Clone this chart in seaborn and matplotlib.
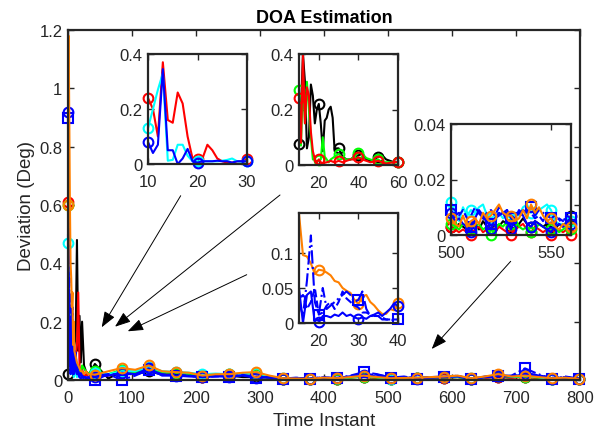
import numpy as np
import pandas as pd
import matplotlib
matplotlib.use("Agg")
import matplotlib.pyplot as plt
import seaborn as sns
from matplotlib.patches import FancyArrowPatch
from matplotlib.ticker import FuncFormatter

sns.set_style("white")
plt.rcParams["font.family"] = ["Liberation Sans", "DejaVu Sans"]

# ---------------- main data ----------------
x_early = [0, 1, 2, 3, 4, 5, 6, 7, 8, 9, 10, 12, 14, 16, 18, 20, 22, 25, 28, 32, 36]
x_tail = list(range(42, 799, 21))

black_early = [0.02, 0.15, 0.1, 0.2, 0.12, 0.08, 0.15, 0.1, 0.2, 0.08, 0.12, 0.15, 0.48, 0.1, 0.22, 0.06, 0.2, 0.05, 0.03, 0.02, 0.03]
red_early = [0.61, 0.35, 0.15, 0.2, 0.1, 0.18, 0.08, 0.12, 0.05, 0.1, 0.06, 0.08, 0.12, 0.3, 0.05, 0.02, 0.04, 0.01, 0.02, 0.01, 0.015]
green_early = [0.6, 0.1, 0.25, 0.08, 0.15, 0.05, 0.1, 0.04, 0.08, 0.03, 0.06, 0.02, 0.05, 0.03, 0.04, 0.02, 0.05, 0.04, 0.03, 0.02, 0.03]
cyan_early = [0.47, 0.2, 0.1, 0.05, 0.15, 0.02, 0.08, 0.03, 0.05, 0.01, 0.02, 0.03, 0.01, 0.02, 0.01, 0.01, 0.005, 0.01, 0.01, 0.005, 0.01]
blue_o_early = [0.92, 0.3, 0.05, 0.2, 0.02, 0.1, 0.3, 0.05, 0.15, 0.02, 0.1, 0.05, 0.03, 0.02, 0.01, 0.005, 0.01, 0.01, 0.005, 0.01, 0.01]
blue_s_early = [0.9, 0.2, 0.35, 0.05, 0.15, 0.1, 0.05, 0.25, 0.02, 0.12, 0.03, 0.1, 0.02, 0.05, 0.01, 0.03, 0.01, 0.005, 0.01, 0.005, 0.003]
blue_d_early = [0.5, 0.15, 0.08, 0.3, 0.04, 0.12, 0.06, 0.1, 0.03, 0.05, 0.02, 0.04, 0.02, 0.03, 0.01, 0.02, 0.015, 0.01, 0.01, 0.005, 0.01]
orange_early = [0.6, 1.18, 0.9, 0.6, 0.4, 0.35, 0.25, 0.3, 0.12, 0.2, 0.1, 0.08, 0.06, 0.05, 0.04, 0.03, 0.03, 0.02, 0.03, 0.02, 0.02]

black_tail = [0.055, 0.005, 0.03, 0.02, 0.03, 0.02, 0.02, 0.015, 0.01, 0.02, 0.015, 0.01, 0.01, 0.008, 0.004, 0.005, 0.004, 0.006, 0.005, 0.01, 0.01, 0.008, 0.004, 0.006, 0.006, 0.008, 0.008, 0.01, 0.005, 0.008, 0.01, 0.008, 0.012, 0.008, 0.005, 0.006, 0.003]
red_tail = [0.02, 0.015, 0.03, 0.025, 0.04, 0.02, 0.025, 0.02, 0.012, 0.015, 0.015, 0.02, 0.02, 0.01, 0.004, 0.004, 0.003, 0.005, 0.005, 0.008, 0.012, 0.006, 0.004, 0.005, 0.006, 0.008, 0.008, 0.01, 0.004, 0.008, 0.012, 0.008, 0.01, 0.006, 0.004, 0.005, 0.002]
green_tail = [0.03, 0.02, 0.035, 0.025, 0.04, 0.025, 0.025, 0.02, 0.015, 0.02, 0.02, 0.022, 0.022, 0.012, 0.005, 0.005, 0.004, 0.006, 0.005, 0.008, 0.012, 0.008, 0.004, 0.006, 0.007, 0.009, 0.009, 0.01, 0.002, 0.01, 0.015, 0.01, 0.012, 0.008, 0.004, 0.006, 0.003]
cyan_tail = [0.025, 0.02, 0.03, 0.03, 0.045, 0.03, 0.028, 0.025, 0.02, 0.022, 0.02, 0.02, 0.025, 0.012, 0.006, 0.005, 0.004, 0.007, 0.006, 0.01, 0.014, 0.01, 0.005, 0.006, 0.008, 0.01, 0.01, 0.012, 0.006, 0.01, 0.018, 0.012, 0.014, 0.01, 0.003, 0.007, 0.004]
blue_o_tail = [0.01, 0.015, 0.025, 0.02, 0.04, 0.015, 0.015, 0.012, 0.01, 0.012, 0.012, 0.015, 0.008, 0.01, 0.005, 0.006, 0.004, 0.008, 0.006, 0.012, 0.018, 0.012, 0.008, 0.01, 0.004, 0.008, 0.01, 0.012, 0.002, 0.01, 0.015, 0.012, 0.02, 0.015, 0.004, 0.008, 0.005]
blue_s_tail = [0.0, 0.02, 0.0, 0.015, 0.035, 0.02, 0.015, 0.015, 0.01, 0.015, 0.012, 0.018, 0.008, 0.01, 0.005, 0.008, 0.004, 0.01, 0.006, 0.015, 0.027, 0.02, 0.008, 0.012, 0.004, 0.01, 0.01, 0.015, 0.002, 0.012, 0.015, 0.015, 0.04, 0.02, 0.004, 0.012, 0.005]
blue_d_tail = [0.015, 0.02, 0.02, 0.02, 0.03, 0.018, 0.018, 0.015, 0.01, 0.012, 0.015, 0.015, 0.012, 0.008, 0.006, 0.007, 0.006, 0.009, 0.008, 0.012, 0.02, 0.018, 0.01, 0.01, 0.008, 0.01, 0.012, 0.014, 0.006, 0.01, 0.012, 0.014, 0.025, 0.016, 0.008, 0.01, 0.006]
orange_tail = [0.018, 0.03, 0.041, 0.035, 0.05, 0.03, 0.027, 0.025, 0.015, 0.02, 0.02, 0.025, 0.027, 0.015, 0.006, 0.005, 0.004, 0.008, 0.006, 0.01, 0.015, 0.01, 0.006, 0.007, 0.008, 0.01, 0.012, 0.015, 0.006, 0.012, 0.02, 0.012, 0.015, 0.01, 0.006, 0.008, 0.004]

# ---------------- inset 1 (x 10..30) ----------------
x_in1 = list(range(10, 31))
red_in1 = [0.24, 0.2, 0.1, 0.37, 0.16, 0.15, 0.26, 0.22, 0.1, 0.02, 0.02, 0.02, 0.07, 0.05, 0.02, 0.01, 0.005, 0.005, 0.01, 0.01, 0.02]
cyan_in1 = [0.13, 0.2, 0.27, 0.33, 0.012, 0.015, 0.07, 0.07, 0.03, 0.01, 0.01, 0.01, 0.01, 0.01, 0.01, 0.012, 0.015, 0.02, 0.01, 0.008, 0.01]
blue_in1 = [0.08, 0.04, 0.07, 0.345, 0.05, 0.05, 0.0, 0.02, 0.055, 0.01, 0.005, 0.01, 0.01, 0.01, 0.012, 0.01, 0.01, 0.005, 0.01, 0.01, 0.01]

# ---------------- inset 2 (x 10..60) ----------------
x_in2 = list(range(10, 31)) + list(range(32, 61, 2))
black_in2 = [0.075, 0.2, 0.4, 0.3, 0.06, 0.1, 0.29, 0.25, 0.15, 0.2, 0.22, 0.15, 0.05, 0.16, 0.17, 0.2, 0.21, 0.17, 0.05, 0.06, 0.06, 0.03, 0.02, 0.02, 0.03, 0.035, 0.04, 0.02, 0.015, 0.02, 0.03, 0.035, 0.02, 0.015, 0.01, 0.012]
green_in2 = [0.27, 0.07, 0.3, 0.15, 0.3, 0.2, 0.1, 0.02, 0.02, 0.01, 0.018, 0.02, 0.1, 0.03, 0.02, 0.01, 0.02, 0.025, 0.03, 0.035, 0.04, 0.025, 0.02, 0.02, 0.03, 0.045, 0.04, 0.025, 0.02, 0.015, 0.02, 0.01, 0.01, 0.01, 0.008, 0.01]
red_in2 = [0.24, 0.08, 0.4, 0.15, 0.28, 0.25, 0.12, 0.05, 0.02, 0.01, 0.02, 0.01, 0.005, 0.008, 0.01, 0.012, 0.015, 0.012, 0.01, 0.012, 0.015, 0.01, 0.015, 0.02, 0.02, 0.028, 0.02, 0.015, 0.01, 0.012, 0.015, 0.01, 0.005, 0.008, 0.01, 0.011]

# ---------------- inset 3 (x 15..40) ----------------
x_in3 = list(range(15, 41))
orange_in3 = [0.156, 0.097, 0.095, 0.085, 0.07, 0.076, 0.075, 0.072, 0.068, 0.06, 0.058, 0.05, 0.046, 0.043, 0.033, 0.027, 0.038, 0.04, 0.03, 0.025, 0.018, 0.013, 0.013, 0.02, 0.018, 0.028]
blue_o_in3 = [0.05, 0.0, 0.04, 0.045, 0.0, 0.001, 0.01, 0.01, 0.008, 0.012, 0.01, 0.015, 0.01, 0.012, 0.008, 0.006, 0.008, 0.006, 0.01, 0.012, 0.015, 0.01, 0.015, 0.02, 0.028, 0.024]
blue_s_in3 = [0.03, 0.01, 0.06, 0.125, 0.03, 0.012, 0.05, 0.02, 0.025, 0.03, 0.035, 0.04, 0.045, 0.04, 0.03, 0.033, 0.045, 0.02, 0.01, 0.01, 0.01, 0.005, 0.005, 0.005, 0.004, 0.005]
blue_d_in3 = [0.035, 0.04, 0.02, 0.03, 0.05, 0.012, 0.015, 0.025, 0.03, 0.02, 0.03, 0.045, 0.035, 0.03, 0.025, 0.022, 0.015, 0.015, 0.012, 0.01, 0.01, 0.008, 0.005, 0.005, 0.005, 0.005]

# ---------------- inset 4 (x 500..560) ----------------
x_in4 = list(range(500, 561, 2))
black_in4 = [0.003, 0.002, 0.004, 0.003, 0.002, 0.003, 0.004, 0.002, 0.005, 0.003, 0.002, 0.004, 0.003, 0.005, 0.004, 0.003, 0.002, 0.004, 0.006, 0.004, 0.003, 0.005, 0.004, 0.003, 0.004, 0.003, 0.002, 0.004, 0.003, 0.005, 0.007]
red_in4 = [0.003, 0.002, 0.001, 0.002, 0.001, 0.0, 0.002, 0.003, 0.001, 0.002, 0.002, 0.001, 0.003, 0.002, 0.001, 0.0, 0.002, 0.003, 0.004, 0.002, 0.001, 0.003, 0.002, 0.001, 0.002, 0.0, 0.001, 0.002, 0.001, 0.002, 0.0]
green_in4 = [0.004, 0.003, 0.002, 0.004, 0.003, 0.002, 0.003, 0.004, 0.002, 0.003, 0.0, 0.002, 0.004, 0.003, 0.005, 0.004, 0.006, 0.003, 0.002, 0.003, 0.001, 0.002, 0.004, 0.003, 0.002, 0.002, 0.003, 0.001, 0.002, 0.003, 0.002]
cyan_in4 = [0.012, 0.008, 0.005, 0.010, 0.007, 0.009, 0.008, 0.010, 0.011, 0.007, 0.006, 0.007, 0.008, 0.006, 0.007, 0.006, 0.008, 0.007, 0.010, 0.011, 0.008, 0.010, 0.009, 0.010, 0.011, 0.009, 0.005, 0.004, 0.004, 0.003, 0.005]
blue_o_in4 = [0.008, 0.005, 0.006, 0.004, 0.003, 0.001, 0.006, 0.009, 0.007, 0.005, 0.002, 0.006, 0.007, 0.008, 0.005, 0.002, 0.006, 0.009, 0.007, 0.004, 0.003, 0.005, 0.004, 0.003, 0.002, 0.001, 0.003, 0.004, 0.003, 0.004, 0.004]
blue_s_in4 = [0.009, 0.007, 0.008, 0.006, 0.005, 0.003, 0.007, 0.008, 0.006, 0.005, 0.004, 0.006, 0.008, 0.007, 0.009, 0.006, 0.005, 0.008, 0.009, 0.008, 0.010, 0.007, 0.009, 0.008, 0.007, 0.006, 0.007, 0.005, 0.006, 0.005, 0.006]
blue_d_in4 = [0.006, 0.008, 0.007, 0.009, 0.006, 0.007, 0.010, 0.008, 0.006, 0.008, 0.009, 0.007, 0.010, 0.008, 0.009, 0.007, 0.006, 0.008, 0.007, 0.009, 0.008, 0.006, 0.007, 0.005, 0.008, 0.006, 0.004, 0.006, 0.005, 0.007, 0.006]
orange_in4 = [0.006, 0.004, 0.003, 0.007, 0.003, 0.005, 0.006, 0.004, 0.008, 0.006, 0.007, 0.009, 0.011, 0.008, 0.007, 0.007, 0.005, 0.006, 0.009, 0.006, 0.011, 0.008, 0.010, 0.007, 0.005, 0.006, 0.003, 0.002, 0.004, 0.003, 0.003]

# ---------------- styles ----------------
C_K, C_R, C_G, C_C, C_B, C_O = "#000000", "#ff0000", "#00ff00", "#00ffff", "#0000ff", "#ff8000"
AX_COL = "#262626"

W, H = 608, 439
fig = plt.figure(figsize=(W / 100, H / 100), dpi=100)


def px_axes(l, t, r, b):
    return fig.add_axes([l / W, 1 - b / H, (r - l) / W, (b - t) / H])


fmt = FuncFormatter(lambda v, p: f"{v:g}")


def style(a, fs=12):
    a.set_facecolor("white")
    for s in a.spines.values():
        s.set_visible(True)
        s.set_color(AX_COL)
        s.set_linewidth(1.6)
    a.tick_params(axis="both", direction="in", length=4, width=1, colors=AX_COL,
                  labelsize=fs, top=True, right=True, bottom=True, left=True)
    a.tick_params(axis="x", pad=7)
    a.tick_params(axis="y", pad=4)
    a.xaxis.set_major_formatter(fmt)
    a.yaxis.set_major_formatter(fmt)
    a.grid(False)


def draw(a, x, y, color, ls="-", marker="o", every=None):
    df = pd.DataFrame({"x": x, "y": y})
    sns.lineplot(data=df, x="x", y="y", ax=a, color=color, linestyle=ls,
                 marker=marker if every is not None else None,
                 markevery=every, markersize=7, markerfacecolor="none",
                 markeredgecolor=color, markeredgewidth=1.5, linewidth=1.5,
                 estimator=None, errorbar=None, sort=False, legend=False,
                 clip_on=False)


# ---------------- main axes ----------------
ax = px_axes(68, 31, 580, 381)
x_main = x_early + x_tail
mk_main = [0] + list(range(len(x_early), len(x_main), 2))
main_series = [
    (black_early + black_tail, C_K, "-", "o"),
    (red_early + red_tail, C_R, "-", "o"),
    (green_early + green_tail, C_G, "-", "o"),
    (cyan_early + cyan_tail, C_C, "-", "o"),
    (blue_d_early + blue_d_tail, C_B, "--", None),
    (blue_s_early + blue_s_tail, C_B, "-.", "s"),
    (blue_o_early + blue_o_tail, C_B, "-", "o"),
    (orange_early + orange_tail, C_O, "-", "o"),
]
for ys, col, ls, mk in main_series:
    draw(ax, x_main, ys, col, ls, mk if mk else "o", mk_main if mk else None)
ax.set_xlim(0, 800)
ax.set_ylim(0, 1.2)
ax.set_xticks([0, 100, 200, 300, 400, 500, 600, 700, 800])
ax.set_yticks([0, 0.2, 0.4, 0.6, 0.8, 1.0, 1.2])
style(ax)
ax.set_xlabel("Time Instant", fontsize=13.5, color=AX_COL, labelpad=5)
ax.set_ylabel("Deviation (Deg)", fontsize=13.5, color=AX_COL, labelpad=3)
ax.set_title("DOA Estimation", fontsize=13, fontweight="bold", color="black", pad=6)

# ---------------- inset 1 ----------------
a1 = px_axes(148, 55, 247, 165)
mk1 = [0, 10, 20]
draw(a1, x_in1, red_in1, C_R, "-", "o", mk1)
draw(a1, x_in1, cyan_in1, C_C, "-", "o", mk1)
draw(a1, x_in1, blue_in1, C_B, "-", "o", mk1)
a1.set_xlim(10, 30)
a1.set_ylim(0, 0.4)
a1.set_xticks([10, 20, 30])
a1.set_yticks([0, 0.2, 0.4])
style(a1)
a1.set_xlabel("")
a1.set_ylabel("")

# ---------------- inset 2 ----------------
a2 = px_axes(299, 55, 398, 166)
mk2 = [0, 10, 20, 25, 30, 35]
draw(a2, x_in2, black_in2, C_K, "-", "o", mk2)
draw(a2, x_in2, green_in2, C_G, "-", "o", mk2)
draw(a2, x_in2, red_in2, C_R, "-", "o", mk2)
a2.set_xlim(10, 60)
a2.set_ylim(0, 0.4)
a2.set_xticks([20, 40, 60])
a2.set_yticks([0, 0.2, 0.4])
style(a2)
a2.set_xlabel("")
a2.set_ylabel("")

# ---------------- inset 3 ----------------
a3 = px_axes(299, 214, 398, 324)
mk3 = [5, 15, 25]
draw(a3, x_in3, orange_in3, C_O, "-", "o", mk3)
draw(a3, x_in3, blue_d_in3, C_B, "--", "o", None)
draw(a3, x_in3, blue_s_in3, C_B, "-.", "s", mk3)
draw(a3, x_in3, blue_o_in3, C_B, "-", "o", mk3)
a3.set_xlim(15, 40)
a3.set_ylim(0, 0.157)
a3.set_xticks([20, 30, 40])
a3.set_yticks([0, 0.05, 0.1])
style(a3)
a3.set_xlabel("")
a3.set_ylabel("")

# ---------------- inset 4 ----------------
a4 = px_axes(451, 125, 571, 236)
mk4 = [0, 5, 10, 15, 20, 25, 30]
inset4 = [
    (black_in4, C_K, "-", "o"),
    (red_in4, C_R, "-", "o"),
    (green_in4, C_G, "-", "o"),
    (cyan_in4, C_C, "-", "o"),
    (blue_d_in4, C_B, "--", None),
    (blue_s_in4, C_B, "-.", "s"),
    (blue_o_in4, C_B, "-", "o"),
    (orange_in4, C_O, "-", "o"),
]
for ys, col, ls, mk in inset4:
    draw(a4, x_in4, ys, col, ls, mk if mk else "o", mk4 if mk else None)
a4.set_xlim(500, 560)
a4.set_ylim(0, 0.04)
a4.set_xticks([500, 550])
a4.set_yticks([0, 0.02, 0.04])
style(a4)
a4.set_xlabel("")
a4.set_ylabel("")

# ---------------- arrows (figure pixel coords, origin bottom-left) ----------------
arrows = [((180.7, 242.3), (101.7, 110.7)),
          ((280.0, 243.0), (115.0, 111.3)),
          ((246.7, 163.3), (127.7, 106.7)),
          ((510.7, 176.7), (431.7, 89.0))]
for (x0, y0), (x1, y1) in arrows:
    arr = FancyArrowPatch((x0 / W, y0 / H), (x1 / W, y1 / H), transform=fig.transFigure,
                          arrowstyle="-|>,head_length=0.8,head_width=0.3",
                          mutation_scale=12, color="black", linewidth=0.7,
                          shrinkA=0, shrinkB=0)
    fig.add_artist(arr)

fig.savefig("out.png", dpi=100)
